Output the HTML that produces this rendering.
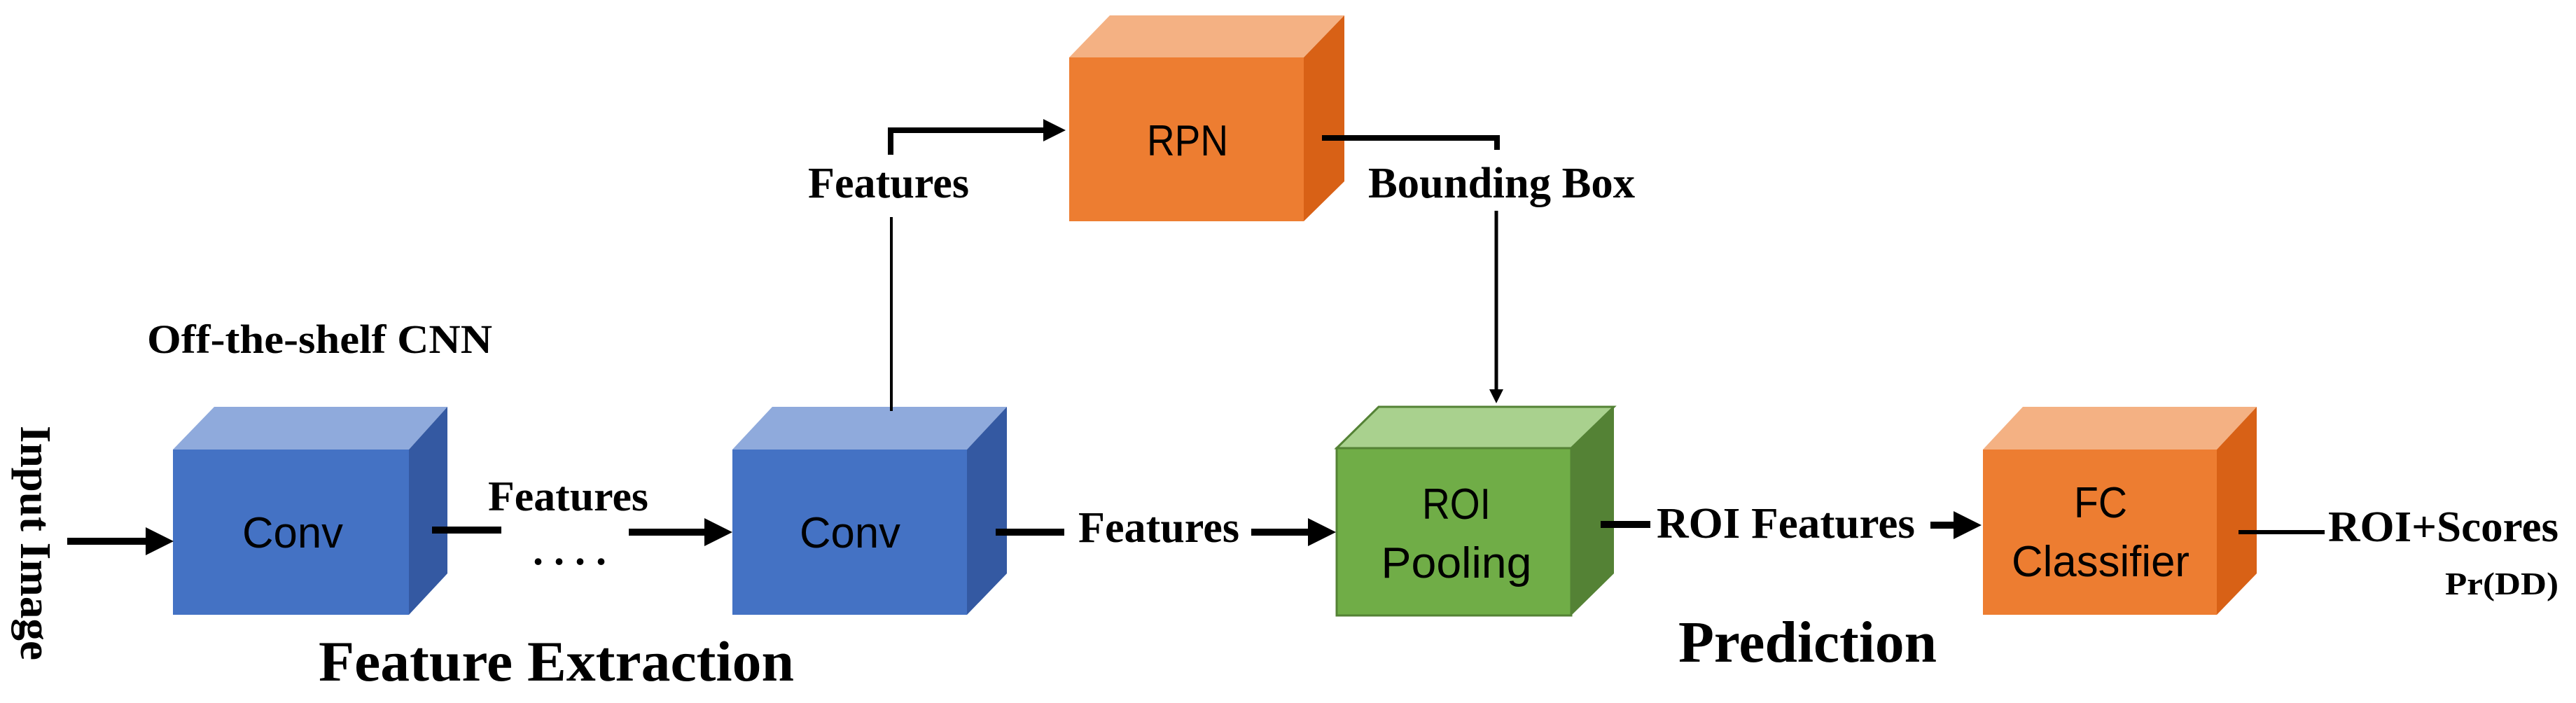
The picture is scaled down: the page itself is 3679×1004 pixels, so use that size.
<!DOCTYPE html>
<html><head><meta charset="utf-8"><style>html,body{margin:0;padding:0;background:#fff}svg{display:block}</style></head>
<body>
<svg width="3679" height="1004" viewBox="0 0 3679 1004" xmlns="http://www.w3.org/2000/svg">
<defs>
<marker id="ah" markerWidth="4" markerHeight="4" refX="2" refY="2" orient="auto" markerUnits="strokeWidth">
<path d="M0,0 L4,2 L0,4 z" fill="#000"/></marker>
</defs>
<g font-family="'Liberation Serif', serif" font-weight="bold" fill="#000">
<!-- Conv1 -->
<polygon points="247,642 306,581 639,581 584,642" fill="#8FAADC"/>
<polygon points="584,642 639,581 639,819 584,878" fill="#3459A2"/>
<rect x="247" y="642" width="337" height="236" fill="#4472C4"/>
<!-- Conv2 -->
<polygon points="1046,642 1103,581 1438,581 1381,642" fill="#8FAADC"/>
<polygon points="1381,642 1438,581 1438,819 1381,878" fill="#3459A2"/>
<rect x="1046" y="642" width="335" height="236" fill="#4472C4"/>
<!-- RPN -->
<polygon points="1527,82 1585,22 1920,22 1862,82" fill="#F4B183"/>
<polygon points="1862,82 1920,22 1920,259 1862,316" fill="#D86116"/>
<rect x="1527" y="82" width="335" height="234" fill="#ED7D31"/>
<!-- ROI -->
<polygon points="1909,640 1969,581 2305,581 2244,640" fill="#A9D18E" stroke="#548235" stroke-width="3"/>
<polygon points="2244,640 2305,581 2305,819 2244,879" fill="#548235"/>
<rect x="1909" y="640" width="335" height="239" fill="#70AD47" stroke="#548235" stroke-width="3"/>
<!-- FC -->
<polygon points="2832,642 2889,581 3223,581 3166,642" fill="#F4B183"/>
<polygon points="3166,642 3223,581 3223,819 3166,878" fill="#D86116"/>
<rect x="2832" y="642" width="334" height="236" fill="#ED7D31"/>

<!-- connectors -->
<g stroke="#000" fill="none">
<line x1="96" y1="773" x2="228" y2="773" stroke-width="10" marker-end="url(#ah)"/>
<line x1="617" y1="757" x2="716" y2="757" stroke-width="10"/>
<line x1="898" y1="760" x2="1026" y2="760" stroke-width="10" marker-end="url(#ah)"/>
<line x1="1273" y1="310" x2="1273" y2="587" stroke-width="4"/>
<polyline points="1272,221 1272,186 1506,186" stroke-width="8" marker-end="url(#ah)"/>
<polyline points="1888,197 2138,197 2138,214" stroke-width="8"/>
<line x1="2137" y1="301" x2="2137" y2="566" stroke-width="5" marker-end="url(#ah)"/>
<line x1="1422" y1="760" x2="1520" y2="760" stroke-width="10"/>
<line x1="1787" y1="760" x2="1888" y2="760" stroke-width="10" marker-end="url(#ah)"/>
<line x1="2286" y1="749" x2="2357" y2="749" stroke-width="10"/>
<line x1="2757" y1="750" x2="2810" y2="750" stroke-width="10" marker-end="url(#ah)"/>
<line x1="3197" y1="760" x2="3320" y2="760" stroke-width="6"/>
</g>

<!-- labels -->
<text x="210" y="504" font-size="58" textLength="493" lengthAdjust="spacingAndGlyphs">Off-the-shelf CNN</text>
<text x="697" y="729" font-size="60" textLength="229" lengthAdjust="spacingAndGlyphs">Features</text>
<text x="761" y="806" font-size="60" textLength="105" lengthAdjust="spacing">....</text>
<text x="455" y="972" font-size="82" textLength="679" lengthAdjust="spacingAndGlyphs">Feature Extraction</text>
<text transform="translate(30,608) rotate(90)" font-size="62" textLength="335" lengthAdjust="spacingAndGlyphs">Input Image</text>
<text x="1154" y="282" font-size="62" textLength="230" lengthAdjust="spacingAndGlyphs">Features</text>
<text x="1954" y="282" font-size="62" textLength="381" lengthAdjust="spacingAndGlyphs">Bounding Box</text>
<text x="1540" y="774" font-size="62" textLength="230" lengthAdjust="spacingAndGlyphs">Features</text>
<text x="2366" y="768" font-size="62" textLength="369" lengthAdjust="spacingAndGlyphs">ROI Features</text>
<text x="3325" y="773" font-size="62" textLength="329" lengthAdjust="spacingAndGlyphs">ROI+Scores</text>
<text x="3492" y="849" font-size="46" textLength="162" lengthAdjust="spacingAndGlyphs">Pr(DD)</text>
<text x="2397" y="945" font-size="84" textLength="369" lengthAdjust="spacingAndGlyphs">Prediction</text>
</g>
<g font-family="'Liberation Sans', sans-serif" fill="#000" text-anchor="middle">
<text x="418" y="782" font-size="62" textLength="144" lengthAdjust="spacingAndGlyphs">Conv</text>
<text x="1214" y="782" font-size="62" textLength="144" lengthAdjust="spacingAndGlyphs">Conv</text>
<text x="1696" y="222" font-size="62" textLength="116" lengthAdjust="spacingAndGlyphs">RPN</text>
<text x="2080" y="741" font-size="62" textLength="98" lengthAdjust="spacingAndGlyphs">ROI</text>
<text x="2080" y="825" font-size="62" textLength="215" lengthAdjust="spacingAndGlyphs">Pooling</text>
<text x="3000" y="739" font-size="62" textLength="76" lengthAdjust="spacingAndGlyphs">FC</text>
<text x="3000" y="823" font-size="62" textLength="254" lengthAdjust="spacingAndGlyphs">Classifier</text>
</g>
</svg>
</body></html>
